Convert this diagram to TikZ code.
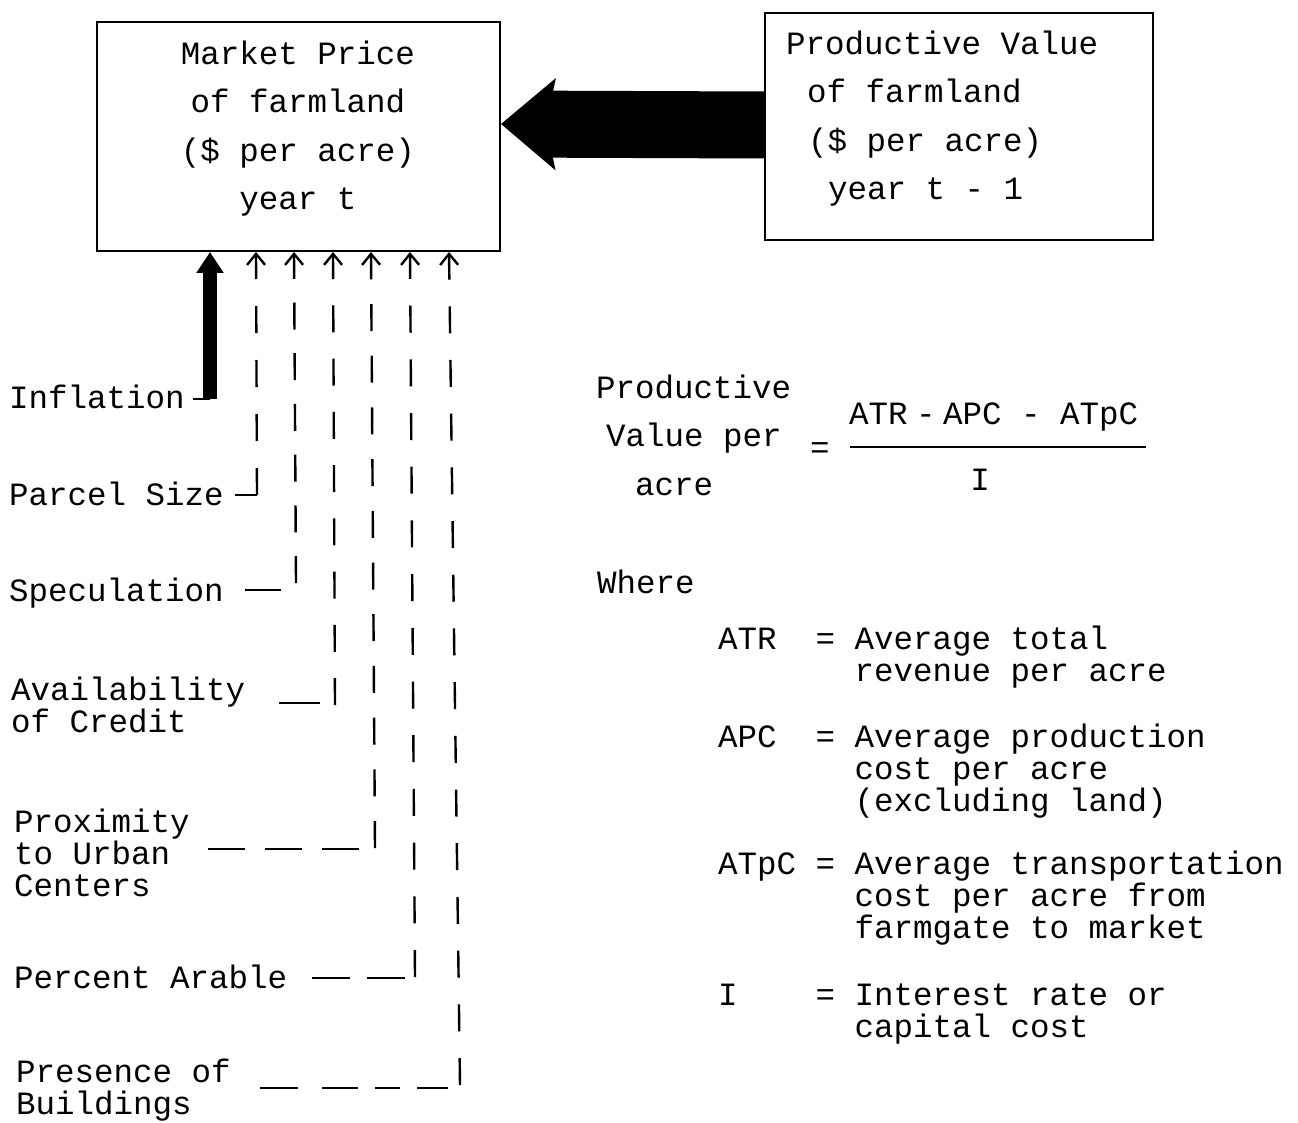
\documentclass[tikz,border=0pt]{standalone}
\usepackage{fontspec}
\setmainfont{Liberation Mono}
\usetikzlibrary{arrows.meta}
\begin{document}
\begin{tikzpicture}[x=1pt,y=-1pt,
  lbl/.style={font=\fontsize{32.5}{32}\selectfont, inner sep=0pt, anchor=base west, align=left},
  widelbl/.style={font=\fontsize{32.5}{48.5}\selectfont, inner sep=0pt, align=left, anchor=base west},
  boxtxt/.style={font=\fontsize{32.5}{48.5}\selectfont, inner sep=0pt, align=center, anchor=base},
  framebox/.style={draw, line width=2pt, inner sep=0pt},
  solidconn/.style={line width=2.2pt},
  vconn/.style={line width=2.4pt, dash pattern=on 27pt off #1pt, -{Straight Barb[length=11pt,width=18pt]}},
  bigarrow/.style={line width=67pt, -{Stealth[length=54pt,width=90pt,inset=9pt]}},
  inflarrow/.style={line width=14pt, -{Triangle[length=21pt,width=26pt]}}
]
\useasboundingbox (0,0) rectangle (1298,1123);

% boxes
\node[framebox, minimum width=403pt, minimum height=229pt] (mp) at (298.5,136.5) {};
\node[boxtxt] (mptxt) at (298,210) {Market Price\\of farmland\\(\$ per acre)\\year t};

\node[framebox, minimum width=388pt, minimum height=227pt] (pv) at (959,126.5) {};
\node[widelbl] (pvtxt) at (786,200) {Productive Value\\\hspace*{21pt}of farmland\\\hspace*{22pt}(\$ per acre)\\\hspace*{42pt}year t - 1};

% big arrow
\draw[bigarrow] (pv.west |- 0,125) -- (mp.east |- 0,124);

% left labels
\node[lbl] (infl) at (9,408) {Inflation};
\node[lbl] (parc) at (9,505) {Parcel Size};
\node[lbl] (spec) at (9,601) {Speculation};
\node[lbl] (cred) at (11,732) {Availability\\of Credit};
\node[lbl] (prox) at (14,896) {Proximity\\to Urban\\Centers};
\node[lbl] (arab) at (14,988) {Percent Arable};
\node[lbl] (bldg) at (16,1114) {Presence of\\Buildings};

% coordinates
\coordinate (inB) at (210,399);
\coordinate (inL) at (193,399);
\coordinate (c1t) at (256,0 |- mp.south); \coordinate (c1b) at (257,495);
\coordinate (c2t) at (294,0 |- mp.south); \coordinate (c2b) at (296,583);
\coordinate (c3t) at (333,0 |- mp.south); \coordinate (c3b) at (335,705);
\coordinate (c4t) at (371,0 |- mp.south); \coordinate (c4b) at (375,848);
\coordinate (c5t) at (410,0 |- mp.south); \coordinate (c5b) at (415,977);
\coordinate (c6t) at (449,0 |- mp.south); \coordinate (c6b) at (460,1085);
\coordinate (h1) at (235,495);
\coordinate (h2a) at (245,590); \coordinate (h2b) at (281,590);
\coordinate (h3a) at (279,703); \coordinate (h3b) at (320,703);
\coordinate (h4a) at (208,849); \coordinate (h4b) at (359,849);
\coordinate (h5a) at (312,978); \coordinate (h5b) at (405,978);
\coordinate (h6a) at (260,1088); \coordinate (h6b) at (448,1088);

% inflation
\draw[inflarrow] (inB) -- (210,0 |- mp.south);
\draw[solidconn] (inL) -- (inB);

% horizontal parts
\draw[solidconn] (h1) -- (c1b);
\draw[solidconn] (h2a) -- (h2b);
\draw[solidconn] (h3a) -- (h3b);
\draw[solidconn, dash pattern=on 37pt off 20pt] (h4a) -- (h4b);
\draw[solidconn, dash pattern=on 38pt off 17pt] (h5a) -- (h5b);
\draw[solidconn, dash pattern=on 38pt off 24pt on 36pt off 17pt on 25pt off 17pt on 31pt off 100pt] (h6a) -- (h6b);

% vertical dashed connectors
\draw[vconn=27] (c1b) -- (c1t);
\draw[vconn=23.7] (c2b) -- (c2t);
\draw[vconn=26.25] (c3b) -- (c3t);
\draw[vconn=24.7] (c4b) -- (c4t);
\draw[vconn=26.7] (c5b) -- (c5t);
\draw[vconn=26.7] (c6b) -- (c6t);

% formula
\node[widelbl] (pvlbl) at (596,495) {Productive\\\hspace*{10pt}Value per\\\hspace*{39pt}acre};
\node[lbl] (eq) at (810,458) {=};
\node[lbl] (num) at (849,424) {ATR\kern-11pt{} - \kern-12pt APC - ATpC};
\coordinate (fl) at (850,447);
\coordinate (fr) at (1146,447);
\draw[solidconn] (fl) -- (fr);
\node[lbl, anchor=base] (den) at (980,490) {I};

\node[lbl] (where) at (597,593) {Where};
\node[lbl] (dATR) at (718,681) {ATR\ \ = Average total\\\hspace*{4.2em}revenue per acre};
\node[lbl] (dAPC) at (718,811) {APC\ \ = Average production\\\hspace*{4.2em}cost per acre\\\hspace*{4.2em}(excluding land)};
\node[lbl] (dATpC) at (718,938) {ATpC = Average transportation\\\hspace*{4.2em}cost per acre from\\\hspace*{4.2em}farmgate to market};
\node[lbl] (dI) at (718,1037) {I\ \ \ \ = Interest rate or\\\hspace*{4.2em}capital cost};
\end{tikzpicture}
\end{document}
